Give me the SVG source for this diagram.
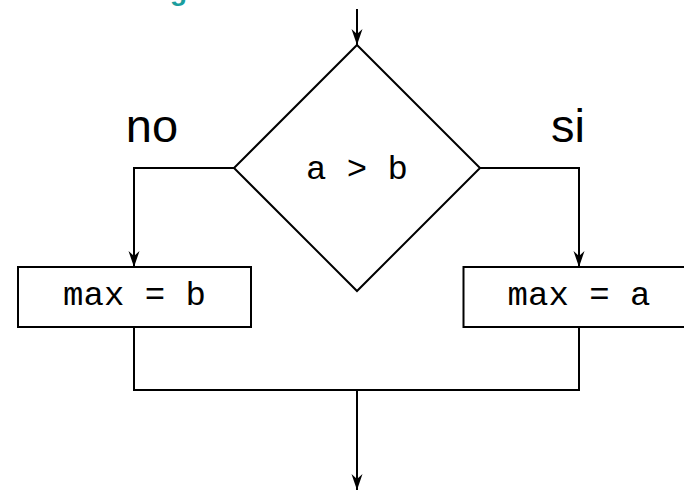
<svg xmlns="http://www.w3.org/2000/svg" width="684" height="492" viewBox="0 0 684 492">
  <style>
    .ln { fill: none; stroke: #000; stroke-width: 2; }
    .shape { fill: #fff; stroke: #000; stroke-width: 2; }
    .code { font-family: "Liberation Mono", "DejaVu Sans Mono", monospace; font-size: 34px; fill: #000; text-anchor: middle; }
    .lbl { font-family: "Liberation Sans", Arial, sans-serif; font-size: 47px; fill: #000; text-anchor: middle; }
    .title { font-family: "Liberation Sans", Arial, sans-serif; font-weight: bold; font-size: 28px; fill: #1b9e9e; }
  </style>
  <defs>
    <marker id="arr" markerUnits="userSpaceOnUse" markerWidth="20" markerHeight="14" viewBox="-17 -7 18 14" refX="0" refY="0" orient="auto">
      <path d="M0,0 L-16,-5.5 L-11,0 L-16,5.5 Z" fill="#000"/>
    </marker>
  </defs>
  <rect width="684" height="492" fill="#fff"/>
  <text class="title" x="170" y="0">g</text>
  <g id="connectors">
    <line class="ln" x1="357" y1="9" x2="357" y2="45" marker-end="url(#arr)"/>
    <polyline class="ln" points="234,168 134,168 134,267" marker-end="url(#arr)"/>
    <polyline class="ln" points="480,168 579,168 579,267" marker-end="url(#arr)"/>
    <polyline class="ln" points="134,327 134,390 579,390 579,327"/>
    <line class="ln" x1="357" y1="390" x2="357" y2="490" marker-end="url(#arr)"/>
  </g>
  <g id="decision">
    <polygon class="shape" points="357,45 480,168 357,291 234,168"/>
    <text class="code" x="357" y="179">a &gt; b</text>
  </g>
  <g id="label-no">
    <text class="lbl" x="152" y="142">no</text>
  </g>
  <g id="label-si">
    <text class="lbl" x="568" y="142">si</text>
  </g>
  <g id="max-b">
    <rect class="shape" x="18" y="267" width="233" height="60"/>
    <text class="code" x="134.5" y="305">max = b</text>
  </g>
  <g id="max-a">
    <rect class="shape" x="463.5" y="267" width="233" height="60"/>
    <text class="code" x="579" y="305">max = a</text>
  </g>
</svg>
